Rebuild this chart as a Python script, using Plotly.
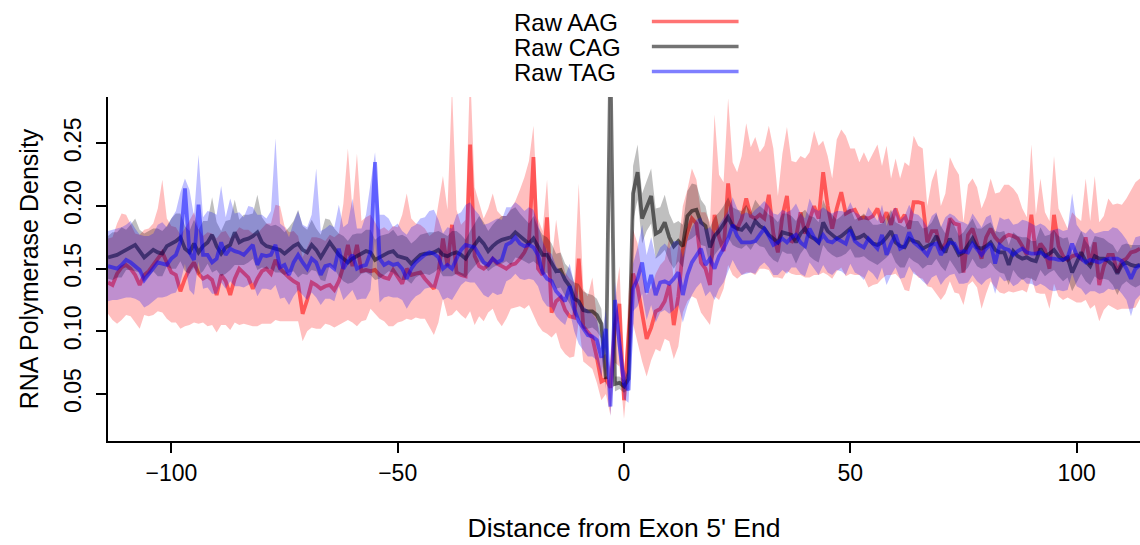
import numpy as np
import plotly.graph_objects as go

# Position relative to exon 5' end (one value per base)
positions = list(range(-114, 115))

# ---- Raw AAG (red) ----
aag = [
    0.139, 0.137, 0.146, 0.151, 0.153, 0.150, 0.145, 0.137, 0.145, 0.148,
    0.153, 0.158, 0.163, 0.155, 0.147, 0.145, 0.132, 0.142, 0.150, 0.155,
    0.146, 0.142, 0.144, 0.141, 0.129, 0.145, 0.140, 0.129, 0.142, 0.150,
    0.146, 0.143, 0.134, 0.142, 0.148, 0.150, 0.146, 0.157, 0.150, 0.146,
    0.143, 0.140, 0.138, 0.114, 0.125, 0.139, 0.137, 0.134, 0.136, 0.137,
    0.133, 0.140, 0.152, 0.169, 0.152, 0.169, 0.148, 0.149, 0.148, 0.149,
    0.145, 0.143, 0.142, 0.149, 0.143, 0.138, 0.150, 0.145, 0.146, 0.147,
    0.142, 0.138, 0.134, 0.147, 0.174, 0.152, 0.185, 0.147, 0.145, 0.144,
    0.249, 0.160, 0.152, 0.150, 0.153, 0.158, 0.154, 0.152, 0.150, 0.153,
    0.154, 0.158, 0.163, 0.171, 0.239, 0.150, 0.145, 0.191, 0.115, 0.124,
    0.127, 0.117, 0.112, 0.111, 0.158, 0.104, 0.100, 0.095, 0.079, 0.060,
    0.062, 0.055, 0.105, 0.122, 0.045, 0.100, 0.146, 0.135, 0.116, 0.094,
    0.103, 0.116, 0.118, 0.124, 0.137, 0.105, 0.128, 0.165, 0.179, 0.190,
    0.186, 0.155, 0.150, 0.137, 0.193, 0.175, 0.164, 0.218, 0.185, 0.182,
    0.190, 0.206, 0.192, 0.190, 0.193, 0.190, 0.209, 0.178, 0.163, 0.192,
    0.208, 0.171, 0.175, 0.195, 0.178, 0.188, 0.200, 0.190, 0.227, 0.200,
    0.182, 0.198, 0.211, 0.194, 0.196, 0.197, 0.190, 0.191, 0.190, 0.192,
    0.198, 0.187, 0.195, 0.185, 0.198, 0.187, 0.193, 0.182, 0.203, 0.203,
    0.202, 0.171, 0.180, 0.180, 0.165, 0.170, 0.190, 0.186, 0.185, 0.147,
    0.177, 0.182, 0.170, 0.158, 0.175, 0.182, 0.175, 0.171, 0.175, 0.177,
    0.176, 0.174, 0.168, 0.161, 0.193, 0.161, 0.170, 0.165, 0.150, 0.193,
    0.168, 0.160, 0.157, 0.160, 0.161, 0.158, 0.175, 0.153, 0.171, 0.137,
    0.152, 0.161, 0.161, 0.147, 0.156, 0.158, 0.163, 0.164, 0.166,
]
aag_up = [
    0.035, 0.038, 0.040, 0.043, 0.040, 0.035, 0.033, 0.040, 0.036, 0.034,
    0.033, 0.040, 0.058, 0.035, 0.037, 0.038, 0.045, 0.040, 0.038, 0.040,
    0.036, 0.034, 0.035, 0.037, 0.045, 0.034, 0.040, 0.045, 0.036, 0.033,
    0.035, 0.038, 0.044, 0.036, 0.034, 0.036, 0.040, 0.044, 0.050, 0.038,
    0.036, 0.040, 0.038, 0.045, 0.042, 0.036, 0.038, 0.040, 0.036, 0.040,
    0.042, 0.038, 0.050, 0.077, 0.045, 0.073, 0.040, 0.042, 0.045, 0.038,
    0.036, 0.040, 0.038, 0.035, 0.040, 0.055, 0.060, 0.045, 0.040, 0.038,
    0.040, 0.038, 0.045, 0.055, 0.050, 0.045, 0.110, 0.050, 0.040, 0.045,
    0.060, 0.055, 0.050, 0.040, 0.045, 0.052, 0.042, 0.040, 0.042, 0.045,
    0.050, 0.055, 0.060, 0.065, 0.025, 0.040, 0.035, 0.030, 0.040, 0.065,
    0.035, 0.030, 0.030, 0.028, 0.060, 0.030, 0.028, 0.048, 0.030, 0.020,
    0.020, 0.015, 0.020, 0.030, 0.015, 0.030, 0.035, 0.035, 0.030, 0.035,
    0.032, 0.030, 0.035, 0.033, 0.038, 0.036, 0.040, 0.035, 0.034, 0.040,
    0.035, 0.040, 0.045, 0.050, 0.080, 0.050, 0.055, 0.068, 0.050, 0.045,
    0.050, 0.060, 0.055, 0.065, 0.050, 0.058, 0.055, 0.068, 0.045, 0.050,
    0.055, 0.065, 0.060, 0.045, 0.060, 0.055, 0.060, 0.058, 0.025, 0.040,
    0.040, 0.055, 0.050, 0.062, 0.050, 0.049, 0.045, 0.052, 0.045, 0.050,
    0.051, 0.045, 0.053, 0.037, 0.040, 0.035, 0.042, 0.050, 0.053, 0.045,
    0.044, 0.029, 0.040, 0.050, 0.035, 0.040, 0.049, 0.045, 0.040, 0.040,
    0.040, 0.040, 0.045, 0.040, 0.032, 0.040, 0.035, 0.040, 0.042, 0.040,
    0.038, 0.035, 0.030, 0.030, 0.056, 0.032, 0.052, 0.030, 0.038, 0.047,
    0.030, 0.030, 0.025, 0.035, 0.030, 0.030, 0.047, 0.035, 0.053, 0.050,
    0.040, 0.045, 0.040, 0.055, 0.045, 0.048, 0.050, 0.055, 0.056,
]
aag_dn = [
    0.025, 0.028, 0.040, 0.042, 0.040, 0.038, 0.038, 0.035, 0.032, 0.036,
    0.040, 0.042, 0.048, 0.045, 0.040, 0.038, 0.030, 0.038, 0.045, 0.048,
    0.040, 0.035, 0.040, 0.036, 0.030, 0.040, 0.035, 0.028, 0.035, 0.045,
    0.040, 0.038, 0.030, 0.038, 0.042, 0.044, 0.040, 0.048, 0.042, 0.038,
    0.035, 0.032, 0.030, 0.022, 0.025, 0.036, 0.035, 0.032, 0.030, 0.032,
    0.030, 0.035, 0.045, 0.060, 0.045, 0.065, 0.040, 0.040, 0.030, 0.035,
    0.035, 0.035, 0.038, 0.045, 0.036, 0.030, 0.040, 0.036, 0.035, 0.037,
    0.032, 0.035, 0.037, 0.040, 0.048, 0.040, 0.072, 0.030, 0.032, 0.034,
    0.133, 0.055, 0.040, 0.042, 0.038, 0.040, 0.045, 0.048, 0.040, 0.035,
    0.035, 0.038, 0.045, 0.050, 0.126, 0.045, 0.045, 0.093, 0.020, 0.025,
    0.040, 0.035, 0.033, 0.031, 0.050, 0.028, 0.027, 0.025, 0.020, 0.015,
    0.012, 0.022, 0.030, 0.050, 0.015, 0.030, 0.040, 0.045, 0.040, 0.030,
    0.026, 0.030, 0.034, 0.030, 0.045, 0.027, 0.040, 0.050, 0.055, 0.062,
    0.060, 0.040, 0.040, 0.032, 0.065, 0.050, 0.030, 0.065, 0.040, 0.040,
    0.045, 0.059, 0.045, 0.045, 0.043, 0.040, 0.060, 0.035, 0.020, 0.050,
    0.060, 0.025, 0.030, 0.050, 0.035, 0.045, 0.055, 0.045, 0.080, 0.055,
    0.040, 0.050, 0.060, 0.050, 0.050, 0.052, 0.045, 0.048, 0.055, 0.055,
    0.060, 0.045, 0.050, 0.040, 0.052, 0.045, 0.060, 0.050, 0.055, 0.060,
    0.060, 0.035, 0.045, 0.050, 0.040, 0.040, 0.050, 0.055, 0.055, 0.026,
    0.040, 0.042, 0.035, 0.040, 0.045, 0.042, 0.040, 0.040, 0.045, 0.045,
    0.045, 0.042, 0.035, 0.030, 0.050, 0.030, 0.040, 0.035, 0.032, 0.055,
    0.040, 0.035, 0.030, 0.035, 0.038, 0.035, 0.050, 0.035, 0.050, 0.029,
    0.035, 0.040, 0.042, 0.030, 0.038, 0.040, 0.045, 0.045, 0.040,
]

# ---- Raw CAG (black) ----
cag = [
    0.159, 0.160, 0.161, 0.163, 0.165, 0.167, 0.169, 0.164, 0.159, 0.162,
    0.165, 0.163, 0.162, 0.168, 0.170, 0.172, 0.175, 0.166, 0.163, 0.170,
    0.163, 0.168, 0.171, 0.177, 0.168, 0.162, 0.167, 0.169, 0.179, 0.171,
    0.173, 0.174, 0.176, 0.179, 0.171, 0.168, 0.167, 0.166, 0.165, 0.162,
    0.165, 0.168, 0.170, 0.165, 0.163, 0.169, 0.165, 0.159, 0.165, 0.171,
    0.166, 0.161, 0.158, 0.155, 0.158, 0.160, 0.162, 0.164, 0.163, 0.157,
    0.159, 0.161, 0.163, 0.164, 0.160, 0.159, 0.158, 0.154, 0.158, 0.161,
    0.162, 0.162, 0.163, 0.165, 0.161, 0.160, 0.162, 0.163, 0.161, 0.158,
    0.164, 0.169, 0.174, 0.170, 0.164, 0.168, 0.171, 0.173, 0.174, 0.175,
    0.179, 0.176, 0.173, 0.170, 0.174, 0.168, 0.161, 0.161, 0.155, 0.148,
    0.149, 0.141, 0.136, 0.126, 0.124, 0.117, 0.116, 0.116, 0.113, 0.106,
    0.062, 0.320, 0.058, 0.059, 0.056, 0.062, 0.210, 0.227, 0.190, 0.200,
    0.208, 0.178, 0.180, 0.187, 0.175, 0.168, 0.172, 0.168, 0.192, 0.196,
    0.197, 0.187, 0.184, 0.167, 0.176, 0.180, 0.185, 0.191, 0.184, 0.182,
    0.181, 0.185, 0.180, 0.188, 0.184, 0.182, 0.177, 0.174, 0.171, 0.179,
    0.178, 0.177, 0.171, 0.178, 0.182, 0.176, 0.174, 0.171, 0.187, 0.180,
    0.177, 0.174, 0.176, 0.179, 0.182, 0.174, 0.175, 0.177, 0.173, 0.170,
    0.169, 0.171, 0.175, 0.180, 0.171, 0.168, 0.167, 0.174, 0.172, 0.171,
    0.166, 0.168, 0.170, 0.176, 0.168, 0.163, 0.174, 0.168, 0.161, 0.163,
    0.168, 0.174, 0.167, 0.166, 0.168, 0.171, 0.165, 0.163, 0.163, 0.153,
    0.164, 0.160, 0.158, 0.159, 0.157, 0.156, 0.166, 0.160, 0.162, 0.165,
    0.160, 0.157, 0.159, 0.147, 0.155, 0.163, 0.156, 0.152, 0.160, 0.158,
    0.158, 0.156, 0.153, 0.146, 0.153, 0.155, 0.153, 0.152, 0.153,
]
cag_se = [
    0.017, 0.019, 0.018, 0.020, 0.016, 0.018, 0.021, 0.017, 0.019, 0.018,
    0.017, 0.019, 0.018, 0.016, 0.020, 0.022, 0.019, 0.018, 0.017, 0.019,
    0.018, 0.020, 0.017, 0.030, 0.019, 0.018, 0.021, 0.020, 0.026, 0.018,
    0.020, 0.019, 0.018, 0.030, 0.020, 0.018, 0.017, 0.019, 0.018, 0.017,
    0.018, 0.020, 0.027, 0.019, 0.018, 0.020, 0.017, 0.018, 0.025, 0.018,
    0.016, 0.017, 0.018, 0.017, 0.019, 0.018, 0.016, 0.017, 0.018, 0.016,
    0.017, 0.016, 0.015, 0.017, 0.016, 0.018, 0.017, 0.016, 0.015, 0.016,
    0.016, 0.017, 0.016, 0.015, 0.017, 0.016, 0.018, 0.017, 0.016, 0.015,
    0.016, 0.017, 0.018, 0.017, 0.016, 0.017, 0.018, 0.019, 0.018, 0.022,
    0.020, 0.018, 0.017, 0.016, 0.018, 0.015, 0.016, 0.014, 0.015, 0.014,
    0.014, 0.013, 0.014, 0.013, 0.014, 0.015, 0.014, 0.013, 0.013, 0.012,
    0.008, 0.020, 0.006, 0.005, 0.005, 0.008, 0.022, 0.022, 0.020, 0.020,
    0.022, 0.020, 0.019, 0.022, 0.019, 0.018, 0.016, 0.017, 0.020, 0.022,
    0.020, 0.018, 0.016, 0.016, 0.015, 0.015, 0.015, 0.016, 0.015, 0.015,
    0.015, 0.016, 0.015, 0.017, 0.016, 0.015, 0.016, 0.017, 0.016, 0.015,
    0.016, 0.015, 0.017, 0.016, 0.015, 0.016, 0.017, 0.016, 0.018, 0.016,
    0.016, 0.015, 0.016, 0.017, 0.016, 0.015, 0.016, 0.017, 0.016, 0.015,
    0.016, 0.015, 0.016, 0.017, 0.016, 0.017, 0.016, 0.015, 0.016, 0.017,
    0.016, 0.015, 0.017, 0.018, 0.016, 0.015, 0.017, 0.016, 0.015, 0.016,
    0.017, 0.016, 0.015, 0.016, 0.017, 0.016, 0.015, 0.016, 0.017, 0.016,
    0.015, 0.016, 0.017, 0.016, 0.015, 0.016, 0.017, 0.016, 0.015, 0.016,
    0.016, 0.017, 0.016, 0.015, 0.016, 0.017, 0.016, 0.015, 0.016, 0.017,
    0.016, 0.015, 0.016, 0.017, 0.016, 0.015, 0.016, 0.017, 0.016,
]

# ---- Raw TAG (blue) ----
tag = [
    0.152, 0.151, 0.150, 0.153, 0.157, 0.155, 0.152, 0.149, 0.141, 0.146,
    0.150, 0.155, 0.154, 0.153, 0.158, 0.161, 0.171, 0.214, 0.163, 0.157,
    0.201, 0.161, 0.161, 0.155, 0.158, 0.171, 0.161, 0.166, 0.164, 0.163,
    0.161, 0.165, 0.169, 0.153, 0.161, 0.160, 0.161, 0.169, 0.151, 0.153,
    0.145, 0.155, 0.161, 0.155, 0.150, 0.158, 0.155, 0.145, 0.152, 0.153,
    0.150, 0.166, 0.150, 0.156, 0.161, 0.150, 0.152, 0.153, 0.163, 0.235,
    0.158, 0.153, 0.155, 0.153, 0.154, 0.150, 0.142, 0.150, 0.155, 0.158,
    0.161, 0.163, 0.162, 0.159, 0.150, 0.153, 0.150, 0.158, 0.165, 0.169,
    0.168, 0.167, 0.161, 0.155, 0.153, 0.158, 0.155, 0.157, 0.169, 0.171,
    0.175, 0.170, 0.168, 0.169, 0.167, 0.161, 0.147, 0.142, 0.140, 0.132,
    0.128, 0.124, 0.136, 0.118, 0.108, 0.102, 0.097, 0.096, 0.093, 0.079,
    0.102, 0.040, 0.125, 0.090, 0.058, 0.053, 0.134, 0.142, 0.155, 0.131,
    0.145, 0.129, 0.139, 0.140, 0.138, 0.142, 0.147, 0.129, 0.145, 0.155,
    0.161, 0.166, 0.153, 0.158, 0.150, 0.160, 0.166, 0.174, 0.185, 0.176,
    0.171, 0.171, 0.171, 0.172, 0.177, 0.182, 0.176, 0.169, 0.171, 0.174,
    0.171, 0.175, 0.177, 0.171, 0.168, 0.182, 0.175, 0.171, 0.177, 0.172,
    0.171, 0.174, 0.172, 0.170, 0.181, 0.172, 0.169, 0.167, 0.174, 0.170,
    0.166, 0.177, 0.161, 0.170, 0.177, 0.166, 0.168, 0.179, 0.171, 0.168,
    0.165, 0.161, 0.169, 0.170, 0.161, 0.167, 0.171, 0.170, 0.163, 0.164,
    0.163, 0.170, 0.166, 0.161, 0.166, 0.170, 0.154, 0.169, 0.166, 0.165,
    0.161, 0.164, 0.166, 0.163, 0.162, 0.162, 0.163, 0.160, 0.158, 0.158,
    0.157, 0.157, 0.159, 0.170, 0.161, 0.158, 0.155, 0.157, 0.156, 0.155,
    0.157, 0.158, 0.158, 0.158, 0.156, 0.150, 0.142, 0.150, 0.153,
]
tag_up = [
    0.028, 0.030, 0.032, 0.030, 0.028, 0.033, 0.030, 0.028, 0.035, 0.030,
    0.028, 0.030, 0.033, 0.030, 0.032, 0.035, 0.040, 0.008, 0.050, 0.035,
    0.040, 0.030, 0.035, 0.040, 0.035, 0.045, 0.030, 0.040, 0.030, 0.032,
    0.030, 0.035, 0.030, 0.040, 0.032, 0.030, 0.035, 0.085, 0.035, 0.030,
    0.030, 0.032, 0.035, 0.030, 0.033, 0.035, 0.075, 0.035, 0.030, 0.032,
    0.033, 0.035, 0.033, 0.030, 0.045, 0.032, 0.030, 0.040, 0.055, 0.008,
    0.035, 0.040, 0.035, 0.030, 0.032, 0.030, 0.035, 0.033, 0.030, 0.032,
    0.030, 0.033, 0.035, 0.030, 0.028, 0.030, 0.032, 0.035, 0.030, 0.032,
    0.035, 0.030, 0.032, 0.030, 0.033, 0.030, 0.035, 0.032, 0.030, 0.028,
    0.028, 0.030, 0.028, 0.030, 0.030, 0.025, 0.025, 0.022, 0.022, 0.020,
    0.020, 0.020, 0.018, 0.020, 0.018, 0.018, 0.020, 0.018, 0.016, 0.016,
    0.015, 0.010, 0.015, 0.015, 0.012, 0.010, 0.020, 0.025, 0.030, 0.030,
    0.030, 0.030, 0.028, 0.030, 0.028, 0.030, 0.025, 0.030, 0.028, 0.028,
    0.028, 0.025, 0.028, 0.025, 0.028, 0.025, 0.025, 0.022, 0.022, 0.022,
    0.022, 0.024, 0.022, 0.025, 0.023, 0.022, 0.024, 0.025, 0.022, 0.023,
    0.024, 0.022, 0.025, 0.023, 0.022, 0.024, 0.023, 0.025, 0.022, 0.024,
    0.023, 0.022, 0.024, 0.025, 0.022, 0.023, 0.024, 0.022, 0.025, 0.023,
    0.022, 0.024, 0.023, 0.025, 0.022, 0.023, 0.024, 0.022, 0.023, 0.025,
    0.024, 0.022, 0.023, 0.025, 0.022, 0.024, 0.023, 0.022, 0.025, 0.023,
    0.022, 0.024, 0.023, 0.022, 0.025, 0.023, 0.024, 0.022, 0.023, 0.025,
    0.024, 0.022, 0.023, 0.025, 0.024, 0.022, 0.023, 0.024, 0.022, 0.023,
    0.025, 0.023, 0.022, 0.040, 0.024, 0.022, 0.023, 0.025, 0.022, 0.024,
    0.023, 0.022, 0.025, 0.024, 0.022, 0.023, 0.024, 0.025, 0.023,
]
tag_dn = [
    0.028, 0.026, 0.025, 0.027, 0.030, 0.028, 0.026, 0.025, 0.022, 0.025,
    0.026, 0.028, 0.027, 0.025, 0.028, 0.030, 0.032, 0.060, 0.030, 0.028,
    0.045, 0.027, 0.026, 0.025, 0.028, 0.032, 0.027, 0.026, 0.028, 0.027,
    0.026, 0.028, 0.030, 0.025, 0.027, 0.026, 0.028, 0.032, 0.025, 0.026,
    0.024, 0.027, 0.028, 0.026, 0.025, 0.027, 0.028, 0.024, 0.026, 0.027,
    0.026, 0.030, 0.025, 0.027, 0.028, 0.025, 0.026, 0.027, 0.030, 0.060,
    0.035, 0.026, 0.027, 0.026, 0.027, 0.025, 0.024, 0.026, 0.027, 0.028,
    0.027, 0.028, 0.027, 0.026, 0.025, 0.026, 0.025, 0.027, 0.028, 0.029,
    0.029, 0.028, 0.027, 0.026, 0.026, 0.027, 0.026, 0.027, 0.029, 0.029,
    0.029, 0.028, 0.027, 0.027, 0.026, 0.025, 0.022, 0.022, 0.021, 0.020,
    0.020, 0.019, 0.020, 0.018, 0.018, 0.017, 0.017, 0.016, 0.016, 0.015,
    0.015, 0.008, 0.015, 0.015, 0.012, 0.010, 0.018, 0.022, 0.025, 0.022,
    0.024, 0.022, 0.024, 0.023, 0.024, 0.025, 0.026, 0.022, 0.025, 0.026,
    0.026, 0.027, 0.025, 0.026, 0.025, 0.026, 0.027, 0.026, 0.028, 0.026,
    0.026, 0.025, 0.024, 0.026, 0.025, 0.027, 0.025, 0.024, 0.026, 0.025,
    0.025, 0.024, 0.026, 0.025, 0.024, 0.027, 0.025, 0.026, 0.024, 0.025,
    0.026, 0.025, 0.024, 0.025, 0.027, 0.025, 0.024, 0.026, 0.025, 0.024,
    0.025, 0.026, 0.024, 0.025, 0.026, 0.024, 0.025, 0.027, 0.025, 0.024,
    0.025, 0.024, 0.026, 0.025, 0.024, 0.025, 0.026, 0.024, 0.025, 0.026,
    0.024, 0.025, 0.026, 0.024, 0.025, 0.027, 0.024, 0.025, 0.026, 0.024,
    0.025, 0.026, 0.024, 0.025, 0.024, 0.026, 0.025, 0.024, 0.025, 0.026,
    0.024, 0.025, 0.026, 0.024, 0.025, 0.024, 0.026, 0.025, 0.024, 0.025,
    0.026, 0.024, 0.025, 0.024, 0.026, 0.025, 0.030, 0.025, 0.024,
]

series_names = ["Raw AAG", "Raw CAG", "Raw TAG"]
y_ticks = [0.05, 0.10, 0.15, 0.20, 0.25]
y_tick_labels = ["0.05", "0.10", "0.15", "0.20", "0.25"]
x_ticks = [-100, -50, 0, 50, 100]

line_colors = ["rgba(255,0,0,0.55)", "rgba(0,0,0,0.55)", "rgba(0,0,255,0.5)"]
band_colors = ["rgba(255,0,0,0.25)", "rgba(0,0,0,0.25)", "rgba(0,0,255,0.25)"]

x = np.array(positions, dtype=float)
centers = [np.array(aag), np.array(cag), np.array(tag)]
uppers = [centers[0] + np.array(aag_up), centers[1] + np.array(cag_se), centers[2] + np.array(tag_up)]
lowers = [centers[0] - np.array(aag_dn), centers[1] - np.array(cag_se), centers[2] - np.array(tag_dn)]

fig = go.Figure()
for name, c, up, lo, lc, bc in zip(series_names, centers, uppers, lowers, line_colors, band_colors):
    fig.add_trace(go.Scatter(
        x=np.concatenate([x, x[::-1]]), y=np.concatenate([up, lo[::-1]]),
        fill="toself", fillcolor=bc, line=dict(width=0, color="rgba(0,0,0,0)"),
        mode="lines", hoverinfo="skip", showlegend=False))
    fig.add_trace(go.Scatter(
        x=x, y=c, mode="lines", name=name,
        line=dict(color=lc, width=3.8), showlegend=False))

FONT = "Liberation Sans, Arial, Helvetica, sans-serif"

# Manual legend: text on the left, line sample on the right (paper coords)
legend_y = [1.2195, 1.1468, 1.0741]
for name, lc, ly in zip(series_names, line_colors, legend_y):
    fig.add_annotation(xref="paper", yref="paper", x=0.3924, y=ly - 0.004, text=name,
                       showarrow=False, xanchor="left", yanchor="middle",
                       height=23, borderpad=0,
                       font=dict(family=FONT, size=24, color="black"))
    fig.add_shape(type="line", xref="paper", yref="paper", x0=0.527, x1=0.611,
                  y0=ly, y1=ly, line=dict(color=lc, width=3.5))

fig.update_layout(
    width=1140, height=545,
    margin=dict(l=108, r=0, t=97, b=104, autoexpand=False),
    paper_bgcolor="white", plot_bgcolor="white",
    font=dict(family=FONT, size=23, color="black"),
    showlegend=False,
    xaxis=dict(range=[-114, 114], tickvals=x_ticks, showgrid=False, zeroline=False,
               automargin=False,
               showline=True, linecolor="black", linewidth=2,
               ticks="outside", ticklen=10, tickwidth=2, tickcolor="black",
               tickfont=dict(size=23),
               title=dict(text="Distance from Exon 5' End", font=dict(size=26.5), standoff=34)),
    yaxis=dict(range=[0.0125, 0.287], tickvals=y_ticks, ticktext=y_tick_labels,
               showgrid=False, zeroline=False, automargin=False,
               showline=True, linecolor="black", linewidth=2,
               ticks="outside", ticklen=10, tickwidth=2, tickcolor="black",
               tickangle=-90, tickfont=dict(size=23), ticklabelstandoff=6,
               title=dict(text="RNA Polymerase Density", font=dict(size=25), standoff=14)),
)

fig.write_html(
    "out.html",
    config={"displayModeBar": False},
    post_script="document.body.style.margin='0';document.body.style.overflow='hidden';",
)
